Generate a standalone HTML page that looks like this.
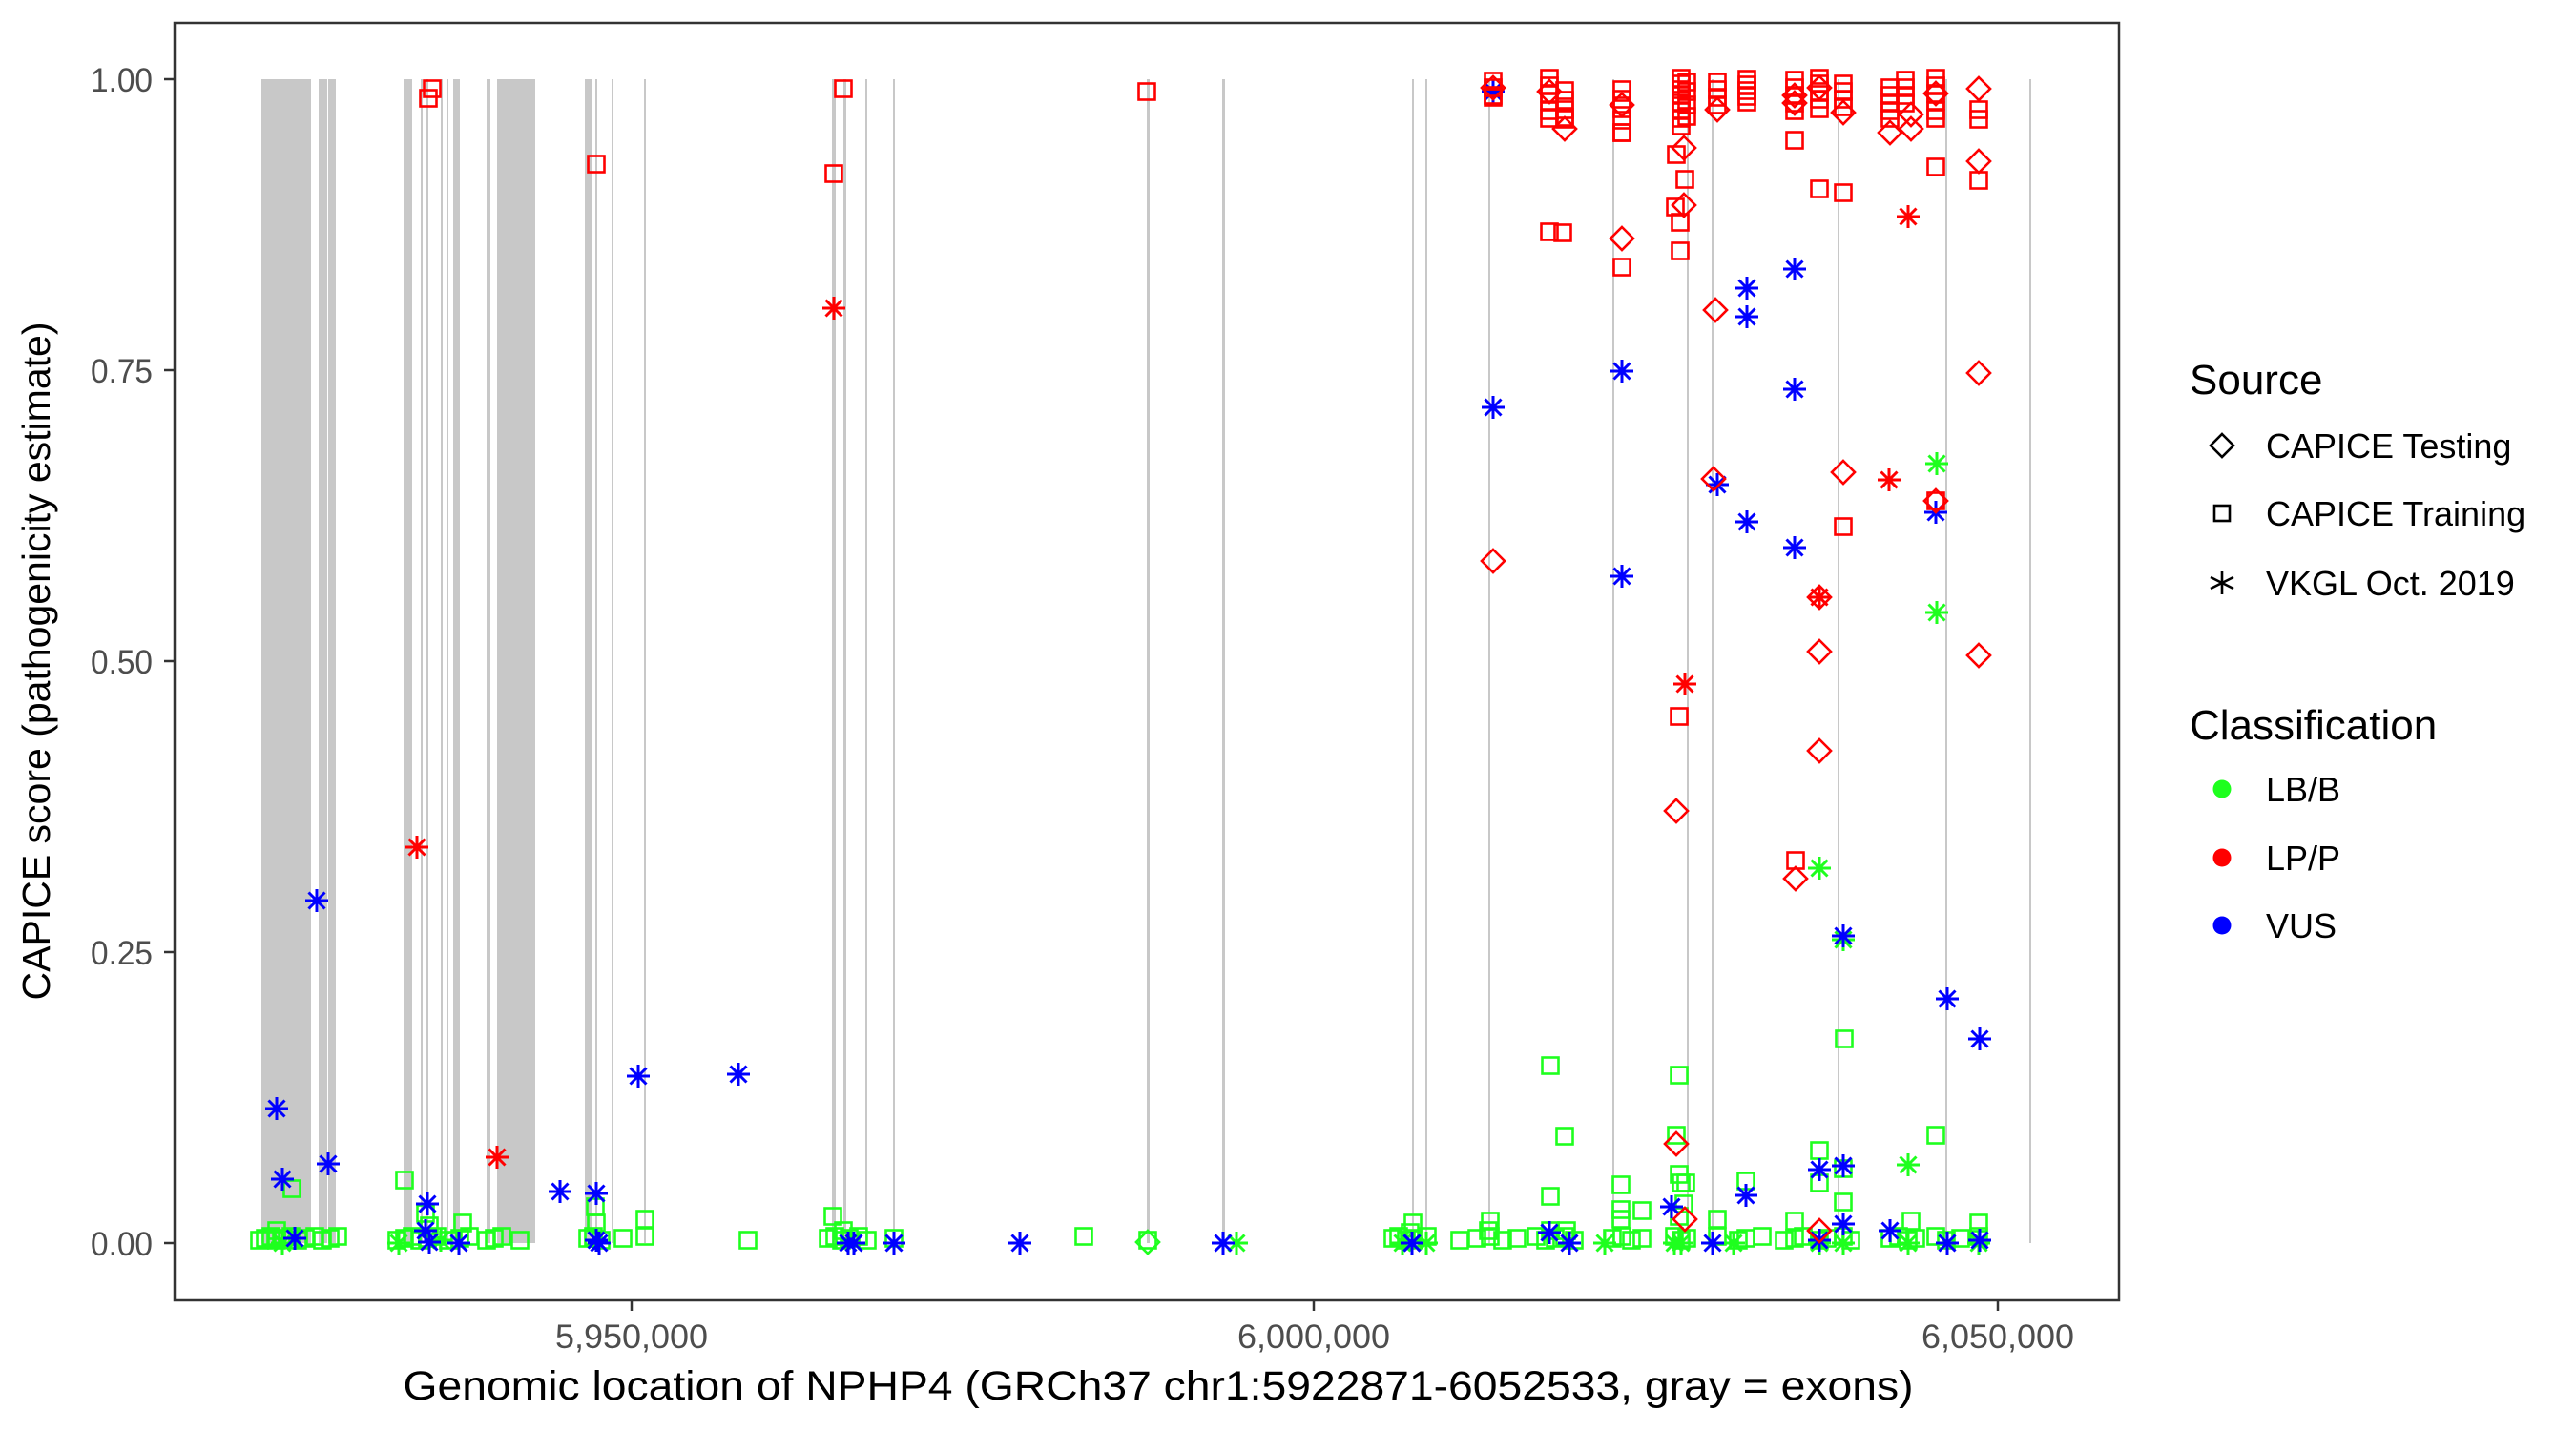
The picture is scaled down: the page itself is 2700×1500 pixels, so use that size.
<!DOCTYPE html>
<html><head><meta charset="utf-8"><style>
html,body{margin:0;padding:0;background:#fff;}
svg{display:block;}
</style></head><body>
<svg id="s" xmlns="http://www.w3.org/2000/svg" width="2700" height="1500" viewBox="0 0 2700 1500">
<rect width="2700" height="1500" fill="#fff"/>
<g id="exons" fill="#c8c8c8"></g>
<g id="pts" fill="none" stroke-width="2.6"></g>
<rect x="183" y="24" width="2038" height="1339" fill="none" stroke="#333" stroke-width="2.5"/>
<g stroke="#333" stroke-width="2.5">
<line x1="172" y1="83" x2="183" y2="83"/><line x1="172" y1="388" x2="183" y2="388"/><line x1="172" y1="693" x2="183" y2="693"/><line x1="172" y1="998" x2="183" y2="998"/><line x1="172" y1="1303" x2="183" y2="1303"/>
<line x1="662" y1="1363" x2="662" y2="1374"/><line x1="1377" y1="1363" x2="1377" y2="1374"/><line x1="2094" y1="1363" x2="2094" y2="1374"/>
</g>
<g font-family="'Liberation Sans Narrow','Liberation Sans',sans-serif" font-size="35" fill="#4d4d4d" text-anchor="end">
<text x="160" y="96" textLength="65" lengthAdjust="spacingAndGlyphs">1.00</text>
<text x="160" y="401" textLength="65" lengthAdjust="spacingAndGlyphs">0.75</text>
<text x="160" y="706" textLength="65" lengthAdjust="spacingAndGlyphs">0.50</text>
<text x="160" y="1011" textLength="65" lengthAdjust="spacingAndGlyphs">0.25</text>
<text x="160" y="1316" textLength="65" lengthAdjust="spacingAndGlyphs">0.00</text>
</g>
<g font-family="'Liberation Sans Narrow','Liberation Sans',sans-serif" font-size="35" fill="#4d4d4d" text-anchor="middle">
<text x="662" y="1413" textLength="160" lengthAdjust="spacingAndGlyphs">5,950,000</text>
<text x="1377" y="1413" textLength="160" lengthAdjust="spacingAndGlyphs">6,000,000</text>
<text x="2094" y="1413" textLength="160" lengthAdjust="spacingAndGlyphs">6,050,000</text>
</g>
<text x="1214" y="1467" font-family="'Liberation Sans Narrow','Liberation Sans',sans-serif" font-size="43" fill="#000" text-anchor="middle" textLength="1583" lengthAdjust="spacingAndGlyphs">Genomic location of NPHP4 (GRCh37 chr1:5922871-6052533, gray = exons)</text>
<text transform="translate(52,693) rotate(-90)" font-family="'Liberation Sans',sans-serif" font-size="41" fill="#000" text-anchor="middle">CAPICE score (pathogenicity estimate)</text>
<g font-family="'Liberation Sans',sans-serif" fill="#000">
<text x="2295" y="413" font-size="44">Source</text>
<text x="2375" y="480" font-size="36">CAPICE Testing</text>
<text x="2375" y="551" font-size="36">CAPICE Training</text>
<text x="2375" y="624" font-size="36">VKGL Oct. 2019</text>
<text x="2295" y="775" font-size="44">Classification</text>
<text x="2375" y="840" font-size="36">LB/B</text>
<text x="2375" y="912" font-size="36">LP/P</text>
<text x="2375" y="983" font-size="36">VUS</text>
</g>
<g fill="none" stroke="#000" stroke-width="2.6">
<path d="M2329 455 L2341 467 L2329 479 L2317 467 Z"/>
<rect x="2321" y="530" width="16" height="16"/>
<path d="M2329 599 V623 M2317 605 L2341 617 M2341 605 L2317 617" />
</g>
<circle cx="2329" cy="827" r="9.5" fill="#1eff1e"/>
<circle cx="2329" cy="899" r="9.5" fill="#ff0000"/>
<circle cx="2329" cy="970" r="9.5" fill="#0000ff"/>
</svg>
<script>
var NS="http://www.w3.org/2000/svg";
var ex=[[274,326],[334,343],[344,352],[423,432],[441,443],[446,449],[462,464],[468,469],[475,482],[510,514],[521,561],[613,620],[624,626],[641,643],[675,677],[872,876],[884,887],[907,909],[936,938],[1202,1205],[1281,1284],[1480,1482],[1494,1496],[1560,1562],[1690,1692],[1768,1769],[1794,1796],[1926,1928],[2039,2041],[2127,2129]];
var eg=document.getElementById('exons');
ex.forEach(function(e){var r=document.createElementNS(NS,'rect');r.setAttribute('x',e[0]);r.setAttribute('y',83);r.setAttribute('width',Math.max(2,e[1]-e[0]));r.setAttribute('height',1220);eg.appendChild(r);});
var C={g:'#1eff1e',r:'#ff0000',b:'#0000ff'};
var P=[];
function a(x,y,s,c){P.push([x,y,s,c]);}
// base row green squares
[272,278,284,290,297,305,312,320,330,338,346,354,416,424,432,440,448,458,470,482,492,510,518,526,545,616,622,630,653,676,784,868,875,882,890,900,909,937,1136,1203,1460,1466,1474,1481,1496,1530,1548,1562,1575,1590,1610,1620,1630,1640,1650,1690,1700,1710,1721,1755,1762,1768,1800,1822,1830,1847,1870,1881,1890,1907,1915,1932,1940,1981,1990,2000,2008,2029,2040,2055,2074].forEach(function(x,i){a(x,1300-(i%3)*2,'s','g');});
[[306,1246],[290,1290],[424,1237],[446,1272],[450,1285],[485,1282],[624,1265],[625,1282],[676,1278],[873,1275],[884,1290],[1478,1292],[1481,1282],[1560,1290],[1562,1280],[1625,1117],[1640,1191],[1760,1127],[2029,1190],[1907,1206],[1932,1225],[1699,1242],[1625,1254],[1721,1269],[1699,1268],[1699,1278],[1760,1231],[1762,1240],[1767,1240],[1830,1238],[1881,1280],[1800,1278],[2003,1280],[2074,1282],[1933,1089],[1757,1190],[1625,1290],[1642,1290],[1765,1262],[1760,1275],[1907,1240],[1932,1260]].forEach(function(p){a(p[0],p[1],'s','g');});
// green asterisks
[[296,1303],[418,1303],[462,1300],[1296,1303],[1470,1303],[1495,1303],[1682,1303],[1755,1303],[1762,1303],[1817,1303],[1907,1303],[1932,1303],[2000,1303],[2074,1303],[1907,910],[1932,985],[2000,1221],[2030,486],[2030,642]].forEach(function(p){a(p[0],p[1],'a','g');});
a(1203,1302,'d','g');
// blue asterisks
[[290,1162],[332,944],[296,1236],[344,1220],[448,1262],[587,1249],[625,1251],[669,1128],[774,1126],[309,1298],[446,1290],[450,1302],[481,1303],[625,1300],[628,1303],[889,1303],[895,1303],[937,1303],[1069,1303],[1282,1303],[1480,1303],[1565,96],[1565,427],[1700,389],[1700,604],[1800,508],[1831,302],[1831,332],[1831,547],[1881,282],[1881,408],[1881,574],[2029,537],[1932,981],[2041,1047],[2075,1089],[1907,1226],[1932,1222],[1830,1253],[1752,1265],[1624,1292],[1932,1283],[1981,1290],[1480,1303],[1645,1303],[1795,1303],[2041,1303],[2075,1300],[1907,1300]].forEach(function(p){a(p[0],p[1],'a','b');});
// red asterisks
[[437,888],[521,1213],[874,323],[1766,717],[1907,626],[2000,227],[1980,503]].forEach(function(p){a(p[0],p[1],'a','r');});
// red squares top clusters
var cols={1565:[85,92,100],1624:[82,90,98,106,116,124],1640:[95,105,115,123],1700:[94,104,114,126,139],1762:[82,88,94,100,108,116,124,132],1768:[86,96,110,122],1800:[86,94,102,110],1831:[83,89,95,101,107],1881:[84,92,100,108,116],1907:[82,88,96,104,114],1932:[88,96,104,112],1981:[92,100,108,116,124],1997:[84,92,100,108],2029:[82,90,98,106,116,124],2074:[115,125]};
for(var k in cols){cols[k].forEach(function(y){a(+k,y,'s','r');});}
[[449,103],[453,93],[625,172],[874,182],[884,93],[1202,96],[1624,243],[1638,244],[1700,139],[1700,280],[1757,162],[1766,188],[1756,217],[1761,233],[1761,263],[1881,147],[1907,198],[1932,202],[1932,552],[2029,175],[2074,189],[1760,751],[1882,902],[2029,525],[1640,125],[1565,102]].forEach(function(p){a(p[0],p[1],'s','r');});
// red diamonds
[[1565,92],[1565,588],[1624,96],[1640,135],[1700,110],[1700,250],[1765,155],[1765,215],[1800,115],[1798,325],[1796,502],[1881,108],[1907,92],[1907,683],[1907,626],[1907,787],[1932,118],[1932,495],[1981,139],[2003,135],[2003,120],[2029,98],[2029,525],[2074,93],[2074,169],[2074,391],[2074,687],[1757,850],[1882,921],[1757,1199],[1766,1278],[1907,1290],[1881,100]].forEach(function(p){a(p[0],p[1],'d','r');});
var g=document.getElementById('pts');
P.forEach(function(p){var x=p[0],y=p[1],col=C[p[3]],el;
 if(p[2]=='s'){el=document.createElementNS(NS,'rect');el.setAttribute('x',x-8.5);el.setAttribute('y',y-8.5);el.setAttribute('width',17);el.setAttribute('height',17);}
 else if(p[2]=='d'){el=document.createElementNS(NS,'path');el.setAttribute('d','M'+x+' '+(y-12)+'L'+(x+12)+' '+y+'L'+x+' '+(y+12)+'L'+(x-12)+' '+y+'Z');}
 else {el=document.createElementNS(NS,'path');var r=12,d=8.5;el.setAttribute('d','M'+(x-r)+' '+y+'H'+(x+r)+'M'+x+' '+(y-r)+'V'+(y+r)+'M'+(x-d)+' '+(y-d)+'L'+(x+d)+' '+(y+d)+'M'+(x+d)+' '+(y-d)+'L'+(x-d)+' '+(y+d));el.setAttribute('stroke-width','3');}
 el.setAttribute('stroke',col);g.appendChild(el);});
</script>
</body></html>
